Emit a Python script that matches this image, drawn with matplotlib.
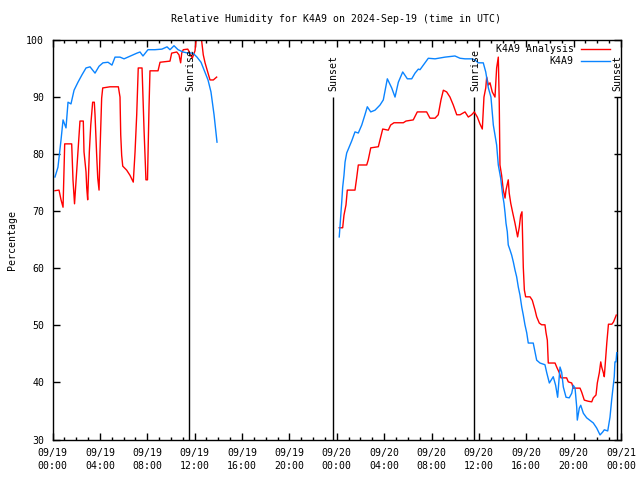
import numpy as np
import matplotlib
matplotlib.use("Agg")
import matplotlib.pyplot as plt
from matplotlib.ticker import MultipleLocator

# hours since 2024-09-19 00:00 UTC
obs_t1 = [0.21, 0.46, 0.72, 0.89, 1.14, 1.31, 1.56, 1.82, 2.15, 2.49, 2.83, 3.17, 3.59, 3.93,
          4.26, 4.69, 5.02, 5.28, 5.70, 6.04, 6.37, 6.80, 7.13, 7.39, 7.64, 8.06, 8.65, 9.24,
          9.67, 9.92, 10.26, 10.60, 11.02, 11.44, 11.86, 12.20, 12.54, 12.79, 13.13, 13.38,
          13.64, 13.89]
obs_v1 = [76.0, 77.7, 82.5, 86.0, 84.6, 89.1, 88.8, 91.2, 92.6, 93.9, 95.1, 95.3, 94.2, 95.4,
          96.0, 96.1, 95.6, 97.0, 97.0, 96.7, 97.0, 97.4, 97.7, 97.9, 97.2, 98.3, 98.3, 98.4,
          98.8, 98.3, 99.0, 98.3, 97.9, 97.7, 97.7, 97.0, 96.1, 94.8, 93.0, 90.9,
          86.9, 82.1]
obs_t2 = [24.21, 24.27, 24.42, 24.50, 24.61, 24.70, 24.84, 25.06, 25.26, 25.54, 25.82, 26.11,
          26.38, 26.58, 26.87, 27.23, 27.65, 27.93, 28.27, 28.64, 28.92, 29.20, 29.57, 29.96,
          30.33, 30.61, 30.89, 31.03, 31.45, 31.73, 32.30, 33.14, 33.98, 34.41, 34.83, 35.39,
          35.67, 35.95, 36.37, 36.58, 36.80, 37.02, 37.22, 37.36, 37.50, 37.64, 37.84, 38.01,
          38.12, 38.21, 38.29, 38.40, 38.48, 38.63, 38.77, 38.91, 39.05, 39.19, 39.33, 39.47,
          39.62, 39.75, 39.89, 40.04, 40.17, 40.59, 40.88, 41.16, 41.58, 41.73, 41.95, 42.28,
          42.48, 42.65, 42.85, 42.99, 43.13, 43.36, 43.63, 43.84, 43.97, 44.12, 44.26, 44.31,
          44.48, 44.60, 44.82, 45.10, 45.53, 45.66, 45.95, 46.23, 46.45, 46.59, 46.88, 47.07,
          47.21, 47.35, 47.43, 47.49, 47.58, 47.64]
obs_v2 = [65.5, 67.2, 71.6, 74.2, 76.3, 78.6, 80.2, 81.3, 82.3, 83.9, 83.7, 85.1,
          86.9, 88.3, 87.4, 87.7, 88.6, 89.5, 93.2, 91.6, 90.0, 92.6, 94.4, 93.2,
          93.2, 94.2, 94.9, 94.8, 96.0, 96.8, 96.7, 97.0, 97.2, 96.8, 96.7, 96.7,
          96.5, 96.0, 96.0, 94.4, 91.6, 90.0, 85.1, 83.4, 81.6, 78.1, 75.8, 72.8,
          71.4, 69.7, 67.9, 66.4, 64.1, 63.2, 62.3, 61.1, 59.7, 58.5, 56.7, 55.3,
          53.2, 51.8, 50.1, 48.7, 46.9, 46.9, 43.9, 43.4, 43.1, 41.7, 39.9, 41.0,
          39.5, 37.4, 42.7, 41.8, 39.2, 37.4, 37.3, 38.1, 39.5, 39.0, 35.7, 33.4,
          35.5, 36.0, 34.6, 33.8, 33.1, 32.9, 32.0, 30.8, 31.3, 31.7, 31.5, 33.9,
          36.9, 39.5, 41.0, 43.6, 43.6, 45.2]

ana_t1 = [0.21, 0.55, 0.72, 0.89, 1.03, 1.62, 1.73, 1.86, 2.04, 2.15, 2.32, 2.60, 2.66, 2.83,
          2.89, 2.97, 3.11, 3.23, 3.39, 3.53, 3.59, 3.73, 3.82, 3.93, 4.01, 4.15, 4.24, 4.85,
          5.56, 5.70, 5.76, 5.84, 5.93, 6.26, 6.54, 6.82, 6.97, 7.11, 7.24, 7.56, 7.73, 7.89,
          8.02, 8.15, 8.23, 8.91, 9.08, 9.92, 10.06, 10.49, 10.68, 10.82, 10.91, 11.04, 11.42,
          11.61, 11.80, 12.03, 12.17, 12.54, 12.73, 12.88, 13.10, 13.30, 13.58, 13.86]
ana_v1 = [73.6, 73.7, 72.0, 70.7, 81.8, 81.8, 75.5, 71.3, 76.9, 80.4, 85.8, 85.8, 80.4, 76.9,
          74.1, 72.0, 80.4, 85.1, 89.1, 89.1, 86.9, 79.8, 75.8, 73.7, 80.4, 89.8, 91.6, 91.8,
          91.8, 90.0, 83.4, 79.8, 77.9, 77.2, 76.3, 75.1, 80.4, 86.9, 95.1, 95.1, 84.2, 75.5,
          75.5, 88.3, 94.6, 94.6, 96.1, 96.3, 97.7, 97.9, 97.4, 96.0, 97.7, 98.3, 98.4,
          97.7, 96.8, 98.1, 100.8, 100.8, 97.4, 96.0, 94.4, 93.0, 93.0, 93.5]
ana_t2 = [24.21, 24.50, 24.61, 24.78, 24.89, 25.54, 25.68, 25.82, 26.53, 26.66, 26.87, 27.51,
          27.65, 27.88, 28.35, 28.55, 28.83, 29.62, 29.85, 30.46, 30.80, 31.59, 31.87, 32.30,
          32.57, 32.80, 33.00, 33.28, 33.56, 33.84, 34.13, 34.41, 34.83, 35.11, 35.39, 35.61,
          35.87, 36.09, 36.29, 36.43, 36.58, 36.66, 36.80, 36.94, 37.13, 37.36, 37.50, 37.64,
          37.72, 37.78, 37.92, 38.06, 38.21, 38.29, 38.48, 38.56, 38.69, 38.86, 39.05, 39.19,
          39.27, 39.41, 39.53, 39.64, 39.70, 39.75, 39.84, 39.95, 40.32, 40.51, 40.74, 40.88,
          41.10, 41.30, 41.58, 41.67, 41.78, 41.86, 42.43, 42.57, 42.79, 42.93, 43.41, 43.55,
          43.84, 43.97, 44.54, 44.68, 44.90, 45.24, 45.53, 45.66, 45.89, 46.00, 46.17, 46.29,
          46.37, 46.51, 46.59, 46.71, 46.80, 46.94, 47.23, 47.37, 47.60]
ana_v2 = [67.1, 67.1, 69.3, 71.1, 73.7, 73.7, 75.8, 78.1, 78.1, 79.0, 81.1, 81.3,
          82.5, 84.4, 84.2, 85.1, 85.5, 85.5, 85.8, 86.0, 87.4, 87.4, 86.3, 86.3,
          86.9, 89.5, 91.2, 90.9, 90.0, 88.6, 86.9, 86.9, 87.4, 86.5, 86.9, 87.4,
          86.5, 85.3, 84.4, 90.0, 91.6, 93.5, 92.1, 92.5, 90.9, 90.0, 95.1, 97.0,
          89.1, 78.1, 76.3, 73.7, 72.3, 73.7, 75.5, 73.2, 71.4, 69.7, 67.9, 66.4,
          65.5, 67.2, 69.3, 69.9, 65.0, 60.2, 56.2, 55.0, 55.0, 54.4, 52.7, 51.5,
          50.4, 50.1, 50.1, 48.7, 47.4, 43.4, 43.4, 42.7, 41.7, 40.8, 40.8, 40.1,
          39.9, 39.0, 39.0, 38.3, 36.9, 36.7, 36.6, 37.3, 37.8, 39.9, 41.7, 43.6,
          42.7, 41.7, 41.0, 44.5, 46.9, 50.2, 50.2, 50.6, 51.8]

sun_t = [11.55, 23.66, 35.61, 47.63]
sun_labels = ["Sunrise", "Sunset", "Sunrise", "Sunset"]

xtick_hours = list(range(0, 49, 4))
xtick_labels = ["09/19\n00:00", "09/19\n04:00", "09/19\n08:00", "09/19\n12:00",
                "09/19\n16:00", "09/19\n20:00", "09/20\n00:00", "09/20\n04:00",
                "09/20\n08:00", "09/20\n12:00", "09/20\n16:00", "09/20\n20:00",
                "09/21\n00:00"]

FONT = "DejaVu Sans Mono"
FS = 7.1
plt.rcParams['font.family'] = [FONT]
plt.rcParams['font.size'] = FS

fig = plt.figure(figsize=(6.4, 4.8), dpi=100)
W, H = 640, 480
L, R, T, B = 52.5, 621, 40, 439.5
ax = fig.add_axes([L / W, 1 - B / H, (R - L) / W, (B - T) / H])

def joined(t1, v1, t2, v2):
    t = np.concatenate([t1, [np.nan], t2])
    v = np.concatenate([v1, [np.nan], v2])
    return t, v

at, av = joined(ana_t1, ana_v1, ana_t2, ana_v2)
ot, ov = joined(obs_t1, obs_v1, obs_t2, obs_v2)

for st, lab in zip(sun_t, sun_labels):
    ax.plot([st, st], [30, 90], color="black", lw=1.0, solid_capstyle="butt")
    ax.text(st + 0.08, 91.0, lab, rotation=90, ha="center", va="bottom",
            fontsize=FS, family=FONT)

ax.plot(at, av, color="#ff0000", lw=1.0, label="K4A9 Analysis")
ax.plot(ot, ov, color="#0a84ff", lw=1.0, label="K4A9")

ax.set_xlim(0, 48)
ax.set_ylim(30, 100)
ax.set_xticks(xtick_hours)
ax.set_xticklabels(xtick_labels, linespacing=1.45)
ax.xaxis.set_minor_locator(MultipleLocator(1))
ax.set_yticks(range(30, 101, 10))

ax.tick_params(axis="both", which="major", direction="in", length=5, width=1,
               top=True, right=True, pad=6, labelsize=FS)
ax.tick_params(axis="x", which="minor", direction="in", length=2.5, width=1,
               top=True, bottom=True)
for s in ax.spines.values():
    s.set_linewidth(1.0)

fig.text(11.5 / W, 1 - 240 / H, "Percentage", rotation=90, ha="center", va="center",
         fontsize=FS)
fig.text((170 + 502) / 2 / W, 1 - 19 / H, "Relative Humidity for K4A9 on 2024-Sep-19 (time in UTC)",
         ha="center", va="center", fontsize=FS)

leg = ax.legend(loc="upper right", bbox_to_anchor=(610 / W, 1 - 44.5 / H),
                bbox_transform=fig.transFigure, frameon=False, markerfirst=False,
                handlelength=2.9, handletextpad=0.8, labelspacing=0.2,
                borderaxespad=0, borderpad=0, fontsize=FS)

fig.savefig("out.png", dpi=100)
